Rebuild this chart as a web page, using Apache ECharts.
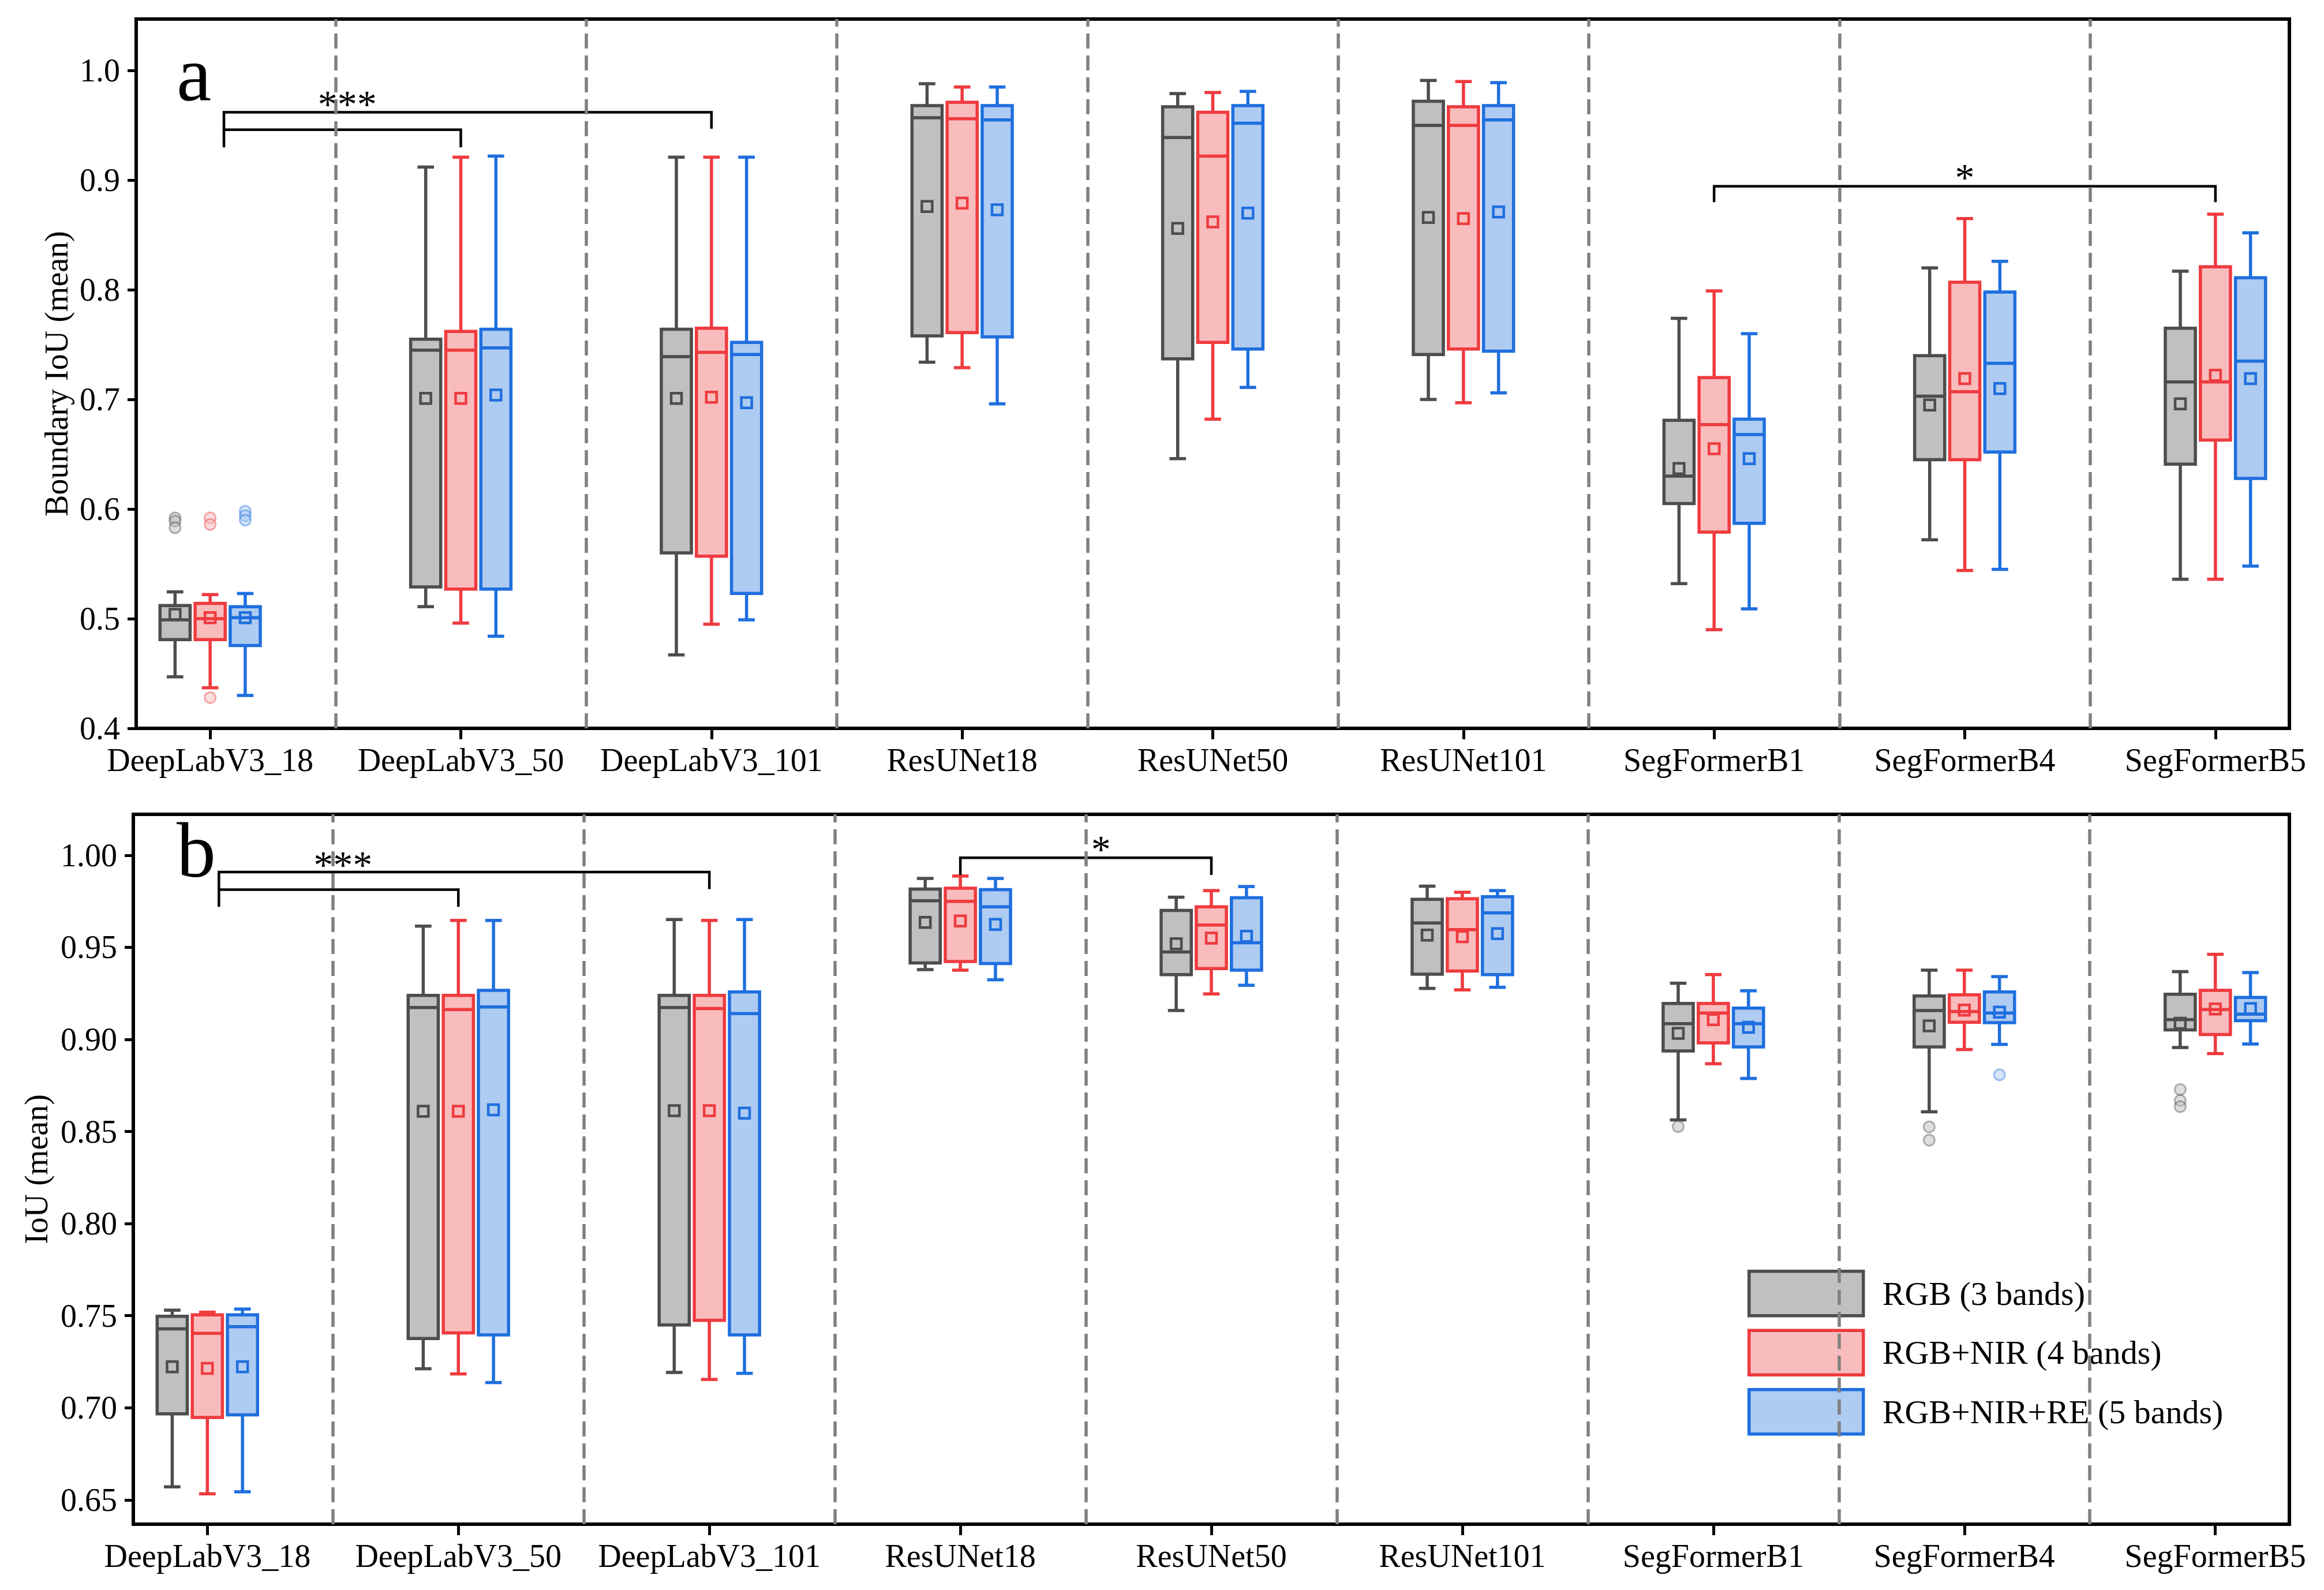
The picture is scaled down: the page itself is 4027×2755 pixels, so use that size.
<!DOCTYPE html>
<html>
<head>
<meta charset="utf-8">
<script src="https://cdn.jsdelivr.net/npm/echarts@6/dist/echarts.min.js"></script>
<style>
html,body{margin:0;padding:0;background:#fff;}
#chart{width:4027px;height:2755px;}
</style>
</head>
<body>
<div id="chart"></div>
<script>
// ---------------- data ----------------
const categories = ['DeepLabV3_18','DeepLabV3_50','DeepLabV3_101','ResUNet18','ResUNet50','ResUNet101','SegFormerB1','SegFormerB4','SegFormerB5'];
const seriesNames = ['RGB (3 bands)','RGB+NIR (4 bands)','RGB+NIR+RE (5 bands)'];

// each row: [whiskerLow, Q1, median, Q3, whiskerHigh, mean]
// panel a: Boundary IoU (mean)
const rgbA = [
  [0.447,0.481,0.499,0.512,0.5245,0.504],
  [0.511,0.529,0.745,0.755,0.912,0.701],
  [0.467,0.560,0.739,0.764,0.921,0.701],
  [0.734,0.758,0.957,0.968,0.988,0.876],
  [0.646,0.737,0.939,0.967,0.979,0.856],
  [0.700,0.741,0.950,0.972,0.991,0.866],
  [0.532,0.605,0.630,0.681,0.774,0.637],
  [0.572,0.645,0.703,0.740,0.820,0.695],
  [0.536,0.641,0.716,0.765,0.817,0.696]
];
const nirA = [
  [0.437,0.481,0.500,0.514,0.522,0.501],
  [0.496,0.527,0.745,0.762,0.921,0.701],
  [0.495,0.557,0.743,0.765,0.921,0.702],
  [0.729,0.761,0.956,0.971,0.985,0.879],
  [0.682,0.752,0.922,0.962,0.980,0.862],
  [0.697,0.746,0.950,0.967,0.990,0.865],
  [0.490,0.579,0.677,0.720,0.799,0.655],
  [0.544,0.645,0.707,0.807,0.865,0.719],
  [0.536,0.663,0.716,0.821,0.869,0.722]
];
const reA = [
  [0.430,0.4755,0.501,0.511,0.523,0.501],
  [0.484,0.527,0.747,0.764,0.922,0.704],
  [0.499,0.523,0.741,0.752,0.921,0.697],
  [0.696,0.757,0.955,0.968,0.985,0.873],
  [0.711,0.746,0.952,0.968,0.981,0.870],
  [0.706,0.744,0.955,0.968,0.989,0.871],
  [0.509,0.587,0.668,0.682,0.760,0.646],
  [0.545,0.652,0.733,0.798,0.826,0.710],
  [0.548,0.628,0.735,0.811,0.852,0.719]
];
// panel b: IoU (mean)
const rgbB = [
  [0.6571,0.6967,0.7429,0.7497,0.7530,0.7223],
  [0.7212,0.7376,0.9173,0.9239,0.9615,0.8610],
  [0.7192,0.7450,0.9173,0.9239,0.9651,0.8613],
  [0.9379,0.9415,0.9753,0.9816,0.9874,0.9635],
  [0.9157,0.9352,0.9475,0.9700,0.9772,0.9519],
  [0.9277,0.9354,0.9632,0.9761,0.9832,0.9566],
  [0.8563,0.8937,0.9085,0.9195,0.9305,0.9033],
  [0.8607,0.8959,0.9157,0.9236,0.9376,0.9074],
  [0.8956,0.9052,0.9107,0.9245,0.9368,0.9088]
];
const nirB = [
  [0.6533,0.6948,0.7404,0.7505,0.7519,0.7214],
  [0.7184,0.7407,0.9162,0.9239,0.9646,0.8610],
  [0.7154,0.7475,0.9168,0.9239,0.9646,0.8613],
  [0.9376,0.9423,0.9750,0.9821,0.9887,0.9643],
  [0.9247,0.9385,0.9621,0.9720,0.9808,0.9550],
  [0.9269,0.9371,0.9596,0.9764,0.9799,0.9558],
  [0.8868,0.8981,0.9143,0.9195,0.9352,0.9107],
  [0.8945,0.9093,0.9151,0.9242,0.9376,0.9159],
  [0.8923,0.9027,0.9162,0.9266,0.9462,0.9165]
];
const reB = [
  [0.6544,0.6962,0.7440,0.7505,0.7536,0.7223],
  [0.7137,0.7396,0.9176,0.9266,0.9646,0.8618],
  [0.7187,0.7396,0.9140,0.9258,0.9651,0.8600],
  [0.9324,0.9412,0.9720,0.9813,0.9874,0.9624],
  [0.9294,0.9376,0.9525,0.9769,0.9830,0.9560],
  [0.9283,0.9352,0.9687,0.9775,0.9808,0.9574],
  [0.8788,0.8959,0.9085,0.9170,0.9264,0.9066],
  [0.8973,0.9091,0.9143,0.9258,0.9341,0.9148],
  [0.8975,0.9102,0.9137,0.9228,0.9363,0.9168]
];

// outliers: [categoryIndex, value]
const outRgbA = [[0,0.592],[0,0.589],[0,0.583]];
const outNirA = [[0,0.592],[0,0.586],[0,0.428]];
const outReA  = [[0,0.598],[0,0.594],[0,0.590]];
const outRgbB = [[6,0.8527],[7,0.8525],[7,0.8453],[8,0.8728],[8,0.8668],[8,0.8635]];
const outNirB = [];
const outReB  = [[7,0.8808]];

// significance brackets: [xLeft, xRight, yTop, yLeftEnd, yRightEnd]
const bracketsA = [[0.055,2,0.962,0.946,0.947],[0.055,1,0.946,0.930,0.930],[6,8,0.8945,0.880,0.880]];
const bracketsB = [[0.046,2,0.9909,0.9813,0.9816],[0.046,1,0.9813,0.972,0.972],[3,4,0.9986,0.9893,0.9893]];
// significance marks: [text, x, y]
const sigA = [['***',0.547,0.977],['*',7.0,0.910]];
const sigB = [['***',0.54,0.9994],['*',3.56,1.0077]];

const yTicksA = [0.4,0.5,0.6,0.7,0.8,0.9,1.0];
const yTicksB = [0.65,0.70,0.75,0.80,0.85,0.90,0.95,1.00];
const separators = [0.5,1.5,2.5,3.5,4.5,5.5,6.5,7.5];

// ---------------- style ----------------
const EDGE = ['#4d4d4d','#ef3b3f','#1f6fdf'];
const FILL = ['#c0c0c0','#f9bcbd','#aecbf1'];
const OUT_EDGE = ['rgba(77,77,77,0.42)','rgba(239,59,63,0.42)','rgba(31,111,223,0.42)'];
const OUT_FILL = ['rgba(192,192,192,0.5)','rgba(249,188,189,0.5)','rgba(174,203,241,0.5)'];
const OFFSETS = [-0.14, 0, 0.14];
const BOX_W = 0.12, CAP_W = 0.066;
const LW = 5.5;
const FONT = "'Liberation Serif','Times New Roman',serif";

function boxRender(k){
  return function(params, api){
    const x = api.value(0) + OFFSETS[k];
    const lo = api.coord([x, api.value(1)]);
    const q1 = api.coord([x, api.value(2)]);
    const md = api.coord([x, api.value(3)]);
    const q3 = api.coord([x, api.value(4)]);
    const hi = api.coord([x, api.value(5)]);
    const mn = api.coord([x, api.value(6)]);
    const hw = api.size([BOX_W, 0])[0] / 2;
    const cw = api.size([CAP_W, 0])[0] / 2;
    const cx = q1[0];
    const ls = {stroke: EDGE[k], lineWidth: LW};
    return {type:'group', children:[
      {type:'line', shape:{x1:cx,y1:hi[1],x2:cx,y2:q3[1]}, style:ls},
      {type:'line', shape:{x1:cx,y1:q1[1],x2:cx,y2:lo[1]}, style:ls},
      {type:'line', shape:{x1:cx-cw,y1:hi[1],x2:cx+cw,y2:hi[1]}, style:ls},
      {type:'line', shape:{x1:cx-cw,y1:lo[1],x2:cx+cw,y2:lo[1]}, style:ls},
      {type:'rect', shape:{x:cx-hw,y:q3[1],width:2*hw,height:q1[1]-q3[1]}, style:{fill:FILL[k], stroke:EDGE[k], lineWidth:LW}},
      {type:'line', shape:{x1:cx-hw,y1:md[1],x2:cx+hw,y2:md[1]}, style:ls},
      {type:'rect', shape:{x:mn[0]-9,y:mn[1]-9,width:18,height:18}, style:{fill:'none', stroke:EDGE[k], lineWidth:4.5}}
    ]};
  };
}
function outlierRender(k){
  return function(params, api){
    const p = api.coord([api.value(0) + OFFSETS[k], api.value(1)]);
    return {type:'circle', shape:{cx:p[0], cy:p[1], r:9.5}, style:{fill:OUT_FILL[k], stroke:OUT_EDGE[k], lineWidth:3}};
  };
}
function bracketRender(arr){
  return function(params, api){
    const b = arr[params.dataIndex];
    const a = api.coord([b[0], b[2]]);
    const c = api.coord([b[1], b[2]]);
    const l = api.coord([b[0], b[3]]);
    const r = api.coord([b[1], b[4]]);
    return {type:'polyline', shape:{points:[[l[0],l[1]],[a[0],a[1]],[c[0],c[1]],[r[0],r[1]]]}, style:{stroke:'#000', lineWidth:4.5, fill:'none'}};
  };
}
function sigRender(arr){
  return function(params, api){
    const s = arr[params.dataIndex];
    const p = api.coord([s[1], s[2]]);
    return {type:'text', x:p[0], y:p[1]+14, style:{text:s[0], fill:'#000', font:'68px ' + FONT, align:'center', verticalAlign:'middle'}};
  };
}

const rowsToData = rows => rows.map((r,i)=>[i].concat(r));
const panels = [
  {data:[rgbA,nirA,reA], out:[outRgbA,outNirA,outReA], br:bracketsA, sig:sigA},
  {data:[rgbB,nirB,reB], out:[outRgbB,outNirB,outReB], br:bracketsB, sig:sigB}
];

const series = [];
panels.forEach((pn, g)=>{
  for(let k=0;k<3;k++){
    const s = {
      type:'custom', name:seriesNames[k], xAxisIndex:g, yAxisIndex:g,
      renderItem: boxRender(k), data: rowsToData(pn.data[k]),
      itemStyle:{color:FILL[k], borderColor:EDGE[k]},
      encode:{x:0, y:[1,2,3,4,5,6]}, silent:true, z:3
    };
    if(k===0){
      s.markLine = {silent:true, symbol:'none', animation:false,
        label:{show:false},
        lineStyle:{type:[26,12], color:'#808080', width:5.5},
        data: separators.map(v=>({xAxis:v}))};
    }
    series.push(s);
    series.push({type:'custom', name:seriesNames[k], xAxisIndex:g, yAxisIndex:g,
      renderItem: outlierRender(k), data: pn.out[k], encode:{x:0,y:1}, silent:true, z:3,
      itemStyle:{color:FILL[k]}});
  }
  series.push({type:'custom', name:'brackets'+g, xAxisIndex:g, yAxisIndex:g,
    renderItem: bracketRender(pn.br), data: pn.br.map(b=>[b[0],b[2]]), encode:{x:0,y:1}, silent:true, z:4});
  series.push({type:'custom', name:'sig'+g, xAxisIndex:g, yAxisIndex:g,
    renderItem: sigRender(pn.sig), data: pn.sig.map(s=>[s[1],s[2]]), encode:{x:0,y:1}, silent:true, z:4});
});

function xAxis(g){
  return {type:'value', gridIndex:g, min:-0.295, max:8.295, position:'bottom',
    axisLine:{show:true, onZero:false, lineStyle:{color:'#000', width:6}},
    axisTick:{show:true, customValues:[0,1,2,3,4,5,6,7,8], length:19, inside:false, lineStyle:{color:'#000', width:5}},
    axisLabel:{show:true, customValues:[0,1,2,3,4,5,6,7,8], formatter:v=>categories[Math.round(v)],
      fontSize:56, fontFamily:FONT, color:'#000', margin:27},
    splitLine:{show:false}};
}
function yAxis(g, min, max, ticks, dec, name, gap){
  return {type:'value', gridIndex:g, min:min, max:max, position:'left',
    name:name, nameLocation:'middle', nameGap:gap,
    nameTextStyle:{fontSize:56, fontFamily:FONT, color:'#000'},
    axisLine:{show:true, onZero:false, lineStyle:{color:'#000', width:6}},
    axisTick:{show:true, customValues:ticks, length:15, inside:false, lineStyle:{color:'#000', width:5}},
    axisLabel:{show:true, customValues:ticks, formatter:v=>Number(v).toFixed(dec),
      fontSize:56, fontFamily:FONT, color:'#000', margin:28},
    splitLine:{show:false}};
}

const chart = echarts.init(document.getElementById('chart'), null, {renderer:'svg', width:4027, height:2755});
chart.setOption({
  animation:false,
  backgroundColor:'#fff',
  grid:[
    {left:236, top:33, width:3731, height:1229, show:true, borderColor:'#000', borderWidth:6, backgroundColor:'transparent', containLabel:false},
    {left:231, top:1411, width:3736, height:1230, show:true, borderColor:'#000', borderWidth:6, backgroundColor:'transparent', containLabel:false}
  ],
  xAxis:[xAxis(0), xAxis(1)],
  yAxis:[
    yAxis(0, 0.4, 1.047, yTicksA, 1, 'Boundary IoU (mean)', 110),
    yAxis(1, 0.6368, 1.0222, yTicksB, 2, 'IoU (mean)', 140)
  ],
  legend:{
    orient:'vertical', left:2998, top:2173, padding:[27,30,30,30],
    backgroundColor:'#fff', borderWidth:0, selectedMode:false,
    itemWidth:198, itemHeight:77, itemGap:20,
    textStyle:{fontSize:58, fontFamily:FONT, color:'#000', padding:[0,0,0,28]},
    data: seriesNames.map((n,k)=>({name:n, icon:'rect', itemStyle:{color:FILL[k], borderColor:EDGE[k], borderWidth:5.5}}))
  },
  graphic:[
    {type:'text', left:306, top:60, style:{text:'a', font:'136px ' + FONT, fill:'#000'}},
    {type:'text', left:306, top:1405, style:{text:'b', font:'136px ' + FONT, fill:'#000'}}
  ],
  series: series
});
</script>
</body>
</html>
